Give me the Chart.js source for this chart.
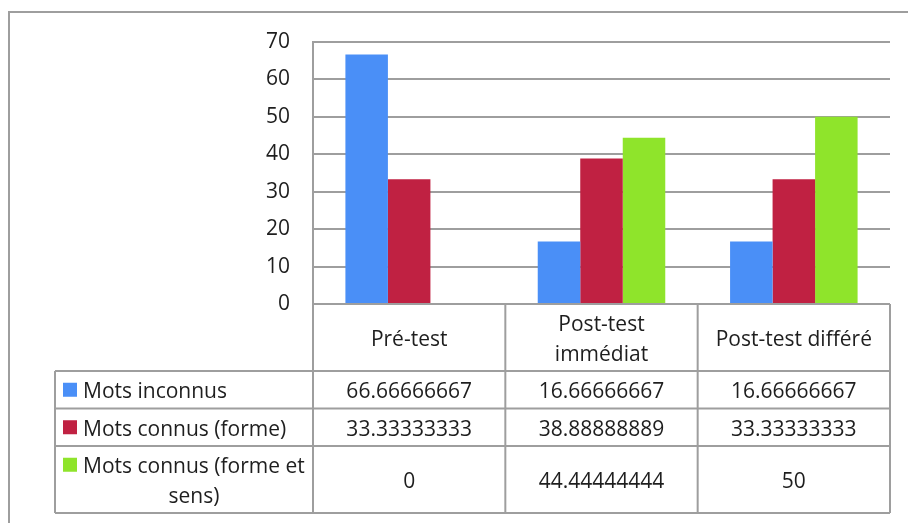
<!DOCTYPE html>
<html>
<head>
<meta charset="utf-8">
<script src="https://cdn.jsdelivr.net/npm/chart.js@4/dist/chart.umd.min.js"></script>
<style>
	html, body { margin: 0; padding: 0; background: #fff; }
	#wrap { width: 908px; height: 523px; position: relative; }
</style>
</head>
<body>
<div id="wrap"><canvas id="chart"></canvas></div>
<script>
/* data */
const categories = ["Pré-test", ["Post-test", "immédiat"], "Post-test différé"];
const seriesNames = ["Mots inconnus", "Mots connus (forme)", "Mots connus (forme et sens)"];
const motsInconnus = [66.66666667, 16.66666667, 16.66666667];
const motsConnusForme = [33.33333333, 38.88888889, 33.33333333];
const motsConnusFormeSens = [0, 44.44444444, 50];
const yTicks = [0, 10, 20, 30, 40, 50, 60, 70];

/* styles */
const seriesColors = ["#4a8ff7", "#c02142", "#8fe42b"];
const GRID = "#9e9e9e";
const TEXT = "#1e1e1e";
const FONT_FAMILY = "Open Sans";
const FONT_SIZE = 21;
const LINE_H = 29.5;
const ROW_PAD = 8;
const TEXT_DY = 2.5; // canvas "middle" sits a bit high for this font

/* the data table under the plot, drawn from the chart's own scale */
const dataTable = {
	id: "dataTable",
	beforeDraw(chart) {
		const ctx = chart.ctx;
		ctx.save();
		ctx.strokeStyle = GRID;
		ctx.lineWidth = 2;
		ctx.beginPath();
		ctx.moveTo(9, chart.height);
		ctx.lineTo(9, 12);
		ctx.lineTo(chart.width, 12);
		ctx.stroke();
		ctx.restore();
	},
	afterDraw(chart) {
		const ctx = chart.ctx;
		const area = chart.chartArea;
		const xs = chart.scales.x;
		const n = categories.length;
		const colW = (area.right - area.left) / n;
		const tableLeft = 55;
		const keyX = 63;
		const keySize = 14;
		const textX = 83;
		const textW = 226;

		ctx.save();
		ctx.font = `${FONT_SIZE}px "${FONT_FAMILY}"`;
		ctx.fillStyle = TEXT;
		ctx.textBaseline = "middle";

		/*simple word wrap for the row labels*/
		const wrap = s => {
			const words = s.split(" ");
			const lines = [];
			let cur = "";
			words.forEach(w => {
				const test = cur ? cur + " " + w : w;
				if (cur && ctx.measureText(test).width > textW) {
					lines.push(cur);
					cur = w;
				} else {
					cur = test;
				}
			});
			lines.push(cur);
			return lines;
		};

		const headerTop = area.bottom;
		const headerH = 2 * LINE_H + ROW_PAD;
		let y = headerTop + headerH;
		const rows = chart.data.datasets.map(ds => {
			const lines = wrap(ds.label);
			const h = lines.length * LINE_H + ROW_PAD;
			const row = { top: y, h: h, lines: lines, color: ds.backgroundColor, values: ds.data };
			y += h;
			return row;
		});
		const tableBottom = y;

		/*grid lines of the table*/
		ctx.strokeStyle = GRID;
		ctx.lineWidth = 2;
		ctx.beginPath();
		ctx.moveTo(area.left, headerTop);
		ctx.lineTo(area.right, headerTop);
		rows.forEach(r => {
			ctx.moveTo(tableLeft, r.top);
			ctx.lineTo(area.right, r.top);
		});
		ctx.moveTo(tableLeft, tableBottom);
		ctx.lineTo(area.right, tableBottom);
		ctx.moveTo(tableLeft, rows[0].top);
		ctx.lineTo(tableLeft, tableBottom);
		for (let k = 0; k <= n; k++) {
			const x = area.left + k * colW;
			ctx.moveTo(x, headerTop);
			ctx.lineTo(x, tableBottom);
		}
		ctx.stroke();

		/*category header*/
		ctx.textAlign = "center";
		categories.forEach((c, i) => {
			const lines = Array.isArray(c) ? c : [c];
			const cx = xs.getPixelForValue(i);
			const cy = headerTop + headerH / 2 + TEXT_DY;
			lines.forEach((l, j) => {
				ctx.fillText(l, cx, cy + (j - (lines.length - 1) / 2) * LINE_H);
			});
		});

		/*rows: legend key, label, values*/
		rows.forEach(r => {
			const cy = r.top + r.h / 2;
			const firstY = cy - (r.lines.length - 1) / 2 * LINE_H;
			ctx.fillStyle = r.color;
			ctx.fillRect(keyX, firstY - keySize / 2, keySize, keySize);
			ctx.fillStyle = TEXT;
			r.lines.forEach((l, j) => {
				if (j === 0) {
					ctx.textAlign = "left";
					ctx.fillText(l, textX, firstY + TEXT_DY);
				} else {
					ctx.textAlign = "center";
					ctx.fillText(l, textX + textW / 2 - 2, firstY + j * LINE_H + TEXT_DY);
				}
			});
			ctx.textAlign = "center";
			r.values.forEach((v, i) => {
				ctx.fillText(String(v), xs.getPixelForValue(i), cy + TEXT_DY);
			});
		});
		ctx.restore();
	}
};

function build() {
	const ctx = document.getElementById("chart").getContext("2d");
	new Chart(ctx, {
		type: "bar",
		data: {
			labels: categories,
			datasets: [
				{ label: seriesNames[0], data: motsInconnus, backgroundColor: seriesColors[0] },
				{ label: seriesNames[1], data: motsConnusForme, backgroundColor: seriesColors[1] },
				{ label: seriesNames[2], data: motsConnusFormeSens, backgroundColor: seriesColors[2] }
			]
		},
		options: {
			responsive: true,
			maintainAspectRatio: false,
			animation: false,
			layout: { padding: { top: 42, right: 18, bottom: 219, left: 0 } },
			datasets: { bar: { barPercentage: 1, categoryPercentage: 0.663, borderWidth: 0 } },
			plugins: { legend: { display: false }, tooltip: { enabled: false } },
			scales: {
				x: { display: false },
				y: {
					min: yTicks[0],
					max: yTicks[yTicks.length - 1],
					afterBuildTicks: s => { s.ticks = yTicks.map(v => ({ value: v })); },
					afterFit: s => { s.width = 313; },
					grid: { color: GRID, lineWidth: 2, drawTicks: false },
					border: { color: GRID, width: 2 },
					ticks: { padding: 23, color: TEXT, font: { family: FONT_FAMILY, size: FONT_SIZE } }
				}
			}
		},
		plugins: [dataTable]
	});
}

document.fonts.load(`${FONT_SIZE}px "${FONT_FAMILY}"`).then(build, build);
</script>
</body>
</html>
